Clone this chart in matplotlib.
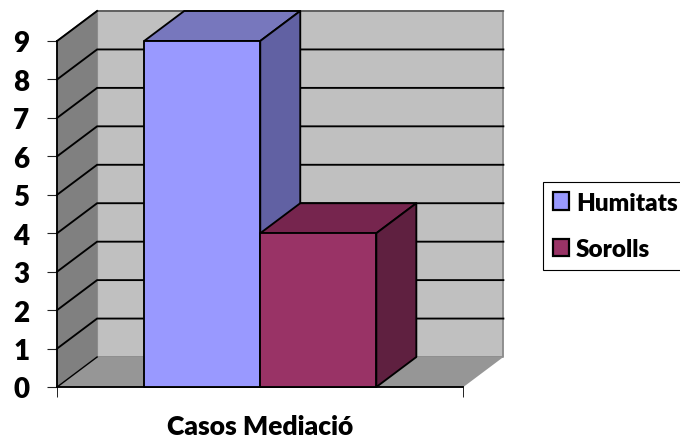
import matplotlib
matplotlib.use("Agg")
import matplotlib.pyplot as plt
from matplotlib.patches import Polygon, Patch

series = ["Humitats", "Sorolls"]
values = [9, 4]
category = "Casos Mediació"
y_ticks = [0, 1, 2, 3, 4, 5, 6, 7, 8, 9]

W, H = 680, 439
plt.rcParams['font.family'] = ['Lato', 'DejaVu Sans']
fig = plt.figure(figsize=(W / 100, H / 100), dpi=100)
L, R, B, T = 57.1, 463.4, 388, 42
ax = fig.add_axes([L / W, 1 - B / H, (R - L) / W, (B - T) / H])
ax.set_xlim(0, 1)
ax.set_ylim(0, 9)
ymax = 9
DX = 40 / (R - L)
DY = 30 / ((B - T) / 9)
LW = 1.35
bar_w = 1 / 3.5
gap = 0.75 * bar_w
faces = [("#9999FF", "#7777BD", "#6161A3"), ("#993366", "#76254E", "#5F2040")]


def poly(pts, fc, ec="black", lw=LW, z=2):
    ax.add_patch(Polygon(pts, closed=True, facecolor=fc, edgecolor=ec, linewidth=lw,
                         zorder=z, clip_on=False, joinstyle="round"))


# walls and floor
poly([(DX, DY), (1 + DX, DY), (1 + DX, ymax + DY), (DX, ymax + DY)], "#C0C0C0", ec="#8C8C8C", z=1)
poly([(0, 0), (DX, DY), (DX, ymax + DY), (0, ymax)], "#808080", ec="none", z=1.1)
poly([(0, 0), (1, 0), (1 + DX, DY), (DX, DY)], "#969696", ec="none", z=1.1)
ax.plot([0, DX, 1 + DX], [ymax, ymax + DY, ymax + DY], color="#555555", lw=1.1, zorder=1.2, clip_on=False)
ax.plot([DX, DX], [DY, ymax + DY], color="#8C8C8C", lw=0.8, zorder=1.2, clip_on=False)

# gridlines
for v in y_ticks[1:-1]:
    ax.plot([0, DX, 1 + DX], [v, v + DY, v + DY], color="black", lw=LW, zorder=1.5,
            clip_on=False, solid_joinstyle="miter")
ax.plot([0, DX], [0, DY], color="black", lw=1.0, zorder=1.5, clip_on=False)
ax.plot([0, 0], [0, ymax], color="black", lw=LW, zorder=1.6, clip_on=False)
ax.plot([0, DX], [ymax, ymax + DY], color="black", lw=LW, zorder=1.6, clip_on=False)
ax.plot([0, 1], [0, 0], color="black", lw=LW, zorder=1.6, clip_on=False)

# bars
for i, (v, (front, top, side)) in enumerate(zip(values, faces)):
    x0 = gap + i * bar_w
    x1 = x0 + bar_w
    z = 3 + i
    poly([(x0, v), (x1, v), (x1 + DX, v + DY), (x0 + DX, v + DY)], top, z=z)
    poly([(x1, 0), (x1 + DX, DY), (x1 + DX, v + DY), (x1, v)], side, z=z)
    poly([(x0, 0), (x1, 0), (x1, v), (x0, v)], front, z=z + 0.5)

for s in ax.spines.values():
    s.set_visible(False)
ax.patch.set_visible(False)
ax.set_yticks(y_ticks)
ax.set_xticks([0, 1])
ax.set_xticklabels(["", ""])
ax.tick_params(axis="y", length=7, width=0.8, labelsize=20, pad=13, color="#222222")
ax.tick_params(axis="x", length=7, width=0.7, color="#222222")
for t in ax.get_yticklabels():
    t.set_fontweight("heavy")
ax.set_xlabel(category, fontsize=19, fontweight="heavy", labelpad=9)

handles = [Patch(facecolor=c[0], edgecolor="black", linewidth=1.6) for c in faces]
leg = fig.legend(handles, series, loc="upper left", bbox_to_anchor=(543 / W, 1 - 183 / H),
                 bbox_transform=fig.transFigure, borderaxespad=0, fancybox=False,
                 edgecolor="black", framealpha=1, handlelength=0.65, handleheight=0.75,
                 handletextpad=0.3, borderpad=0.4, labelspacing=1.0,
                 prop={"weight": "heavy", "size": 17.5})
leg.get_frame().set_linewidth(0.8)

fig.savefig("out.png", dpi=100)
